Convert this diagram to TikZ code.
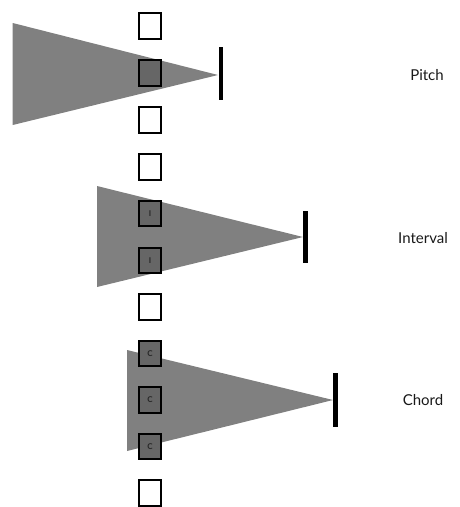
\documentclass[tikz,border=0pt]{standalone}
\usepackage{fontspec}
\setmainfont{Lato}
\begin{document}
\begin{tikzpicture}[x=1pt,y=-1pt,
  cell/.style={draw=black,line width=2.3pt,fill=white,minimum width=21.5pt,minimum height=25.5pt,inner sep=0pt},
  darkcell/.style={cell,fill=black!60,font=\fontsize{8}{8}\selectfont\bfseries,text=black!85},
  cone/.style={fill=black!50,draw=none},
  bar/.style={line width=4.2pt,black},
  lbl/.style={font=\fontsize{15}{15}\selectfont,text=black!90}]
\useasboundingbox (0,0) rectangle (459,507);
% cones
\fill[cone] (12.7,23) -- (218,75) -- (12.7,125) -- cycle;
\fill[cone] (97,186) -- (303,237) -- (97,287) -- cycle;
\fill[cone] (127,350) -- (333,400) -- (127,451) -- cycle;
% cells
\node[cell] (s1) at (150,26) {};
\node[darkcell] (s2) at (150,73) {};
\node[cell] (s3) at (150,120) {};
\node[cell] (s4) at (150,167) {};
\node[darkcell] (s5) at (150,213.5) {I};
\node[darkcell] (s6) at (150,260.5) {I};
\node[cell] (s7) at (150,307) {};
\node[darkcell] (s8) at (150,353.5) {C};
\node[darkcell] (s9) at (150,400) {C};
\node[darkcell] (s10) at (150,446.5) {C};
\node[cell] (s11) at (150,493) {};
% bars
\coordinate (b1t) at (221,47); \coordinate (b1b) at (221,100);
\coordinate (b2t) at (305.5,211); \coordinate (b2b) at (305.5,263);
\coordinate (b3t) at (335.5,373); \coordinate (b3b) at (335.5,427);
\draw[bar] (b1t) -- (b1b);
\draw[bar] (b2t) -- (b2b);
\draw[bar] (b3t) -- (b3b);
% labels
\node[lbl] (p) at (427,75) {Pitch};
\node[lbl] (i) at (423,238) {Interval};
\node[lbl] (c) at (423,400) {Chord};
\end{tikzpicture}
\end{document}
